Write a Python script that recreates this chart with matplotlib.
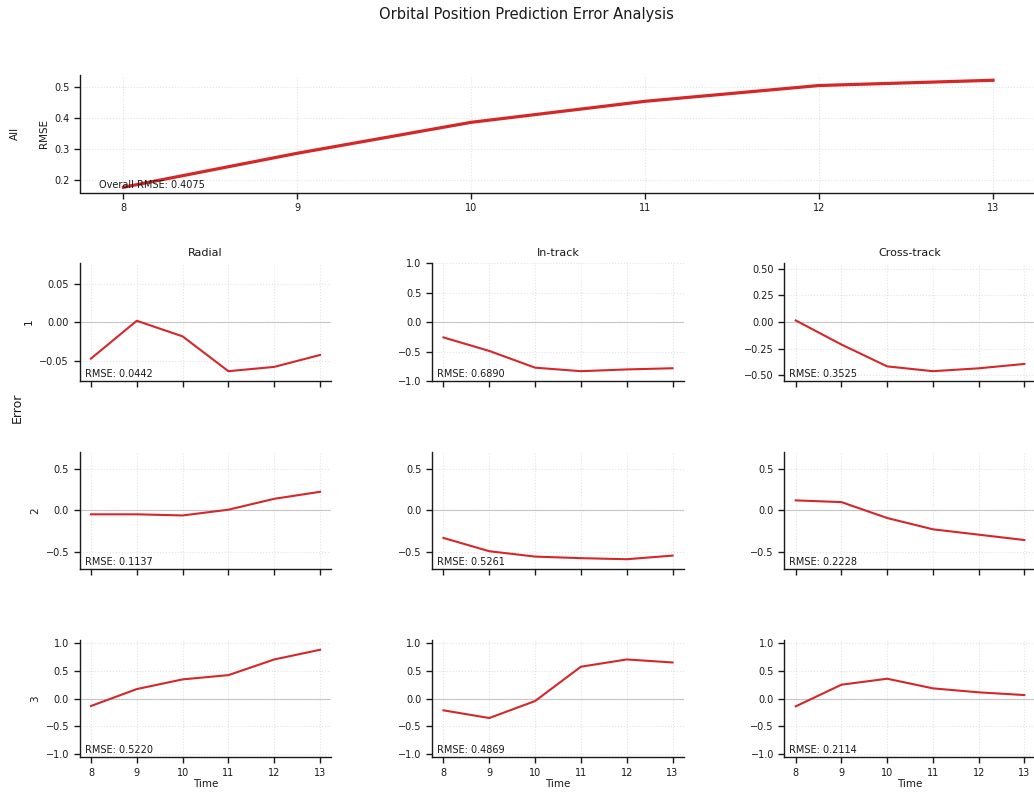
import numpy as np
import matplotlib
matplotlib.use("Agg")
import matplotlib.pyplot as plt
from matplotlib.ticker import MaxNLocator

# Time steps
times = [8, 9, 10, 11, 12, 13]

# Overall RMSE over time
overall_rmse = [0.177, 0.287, 0.387, 0.455, 0.506, 0.523]
overall_label = "Overall RMSE: 0.4075"

components = ["Radial", "In-track", "Cross-track"]
rows = ["1", "2", "3"]

# Errors per row (object) and component
radial_1 = [-0.0474, 0.0018, -0.0185, -0.0638, -0.0582, -0.0427]
intrack_1 = [-0.26, -0.49, -0.775, -0.835, -0.805, -0.785]
cross_1 = [0.016, -0.21, -0.415, -0.46, -0.433, -0.392]

radial_2 = [-0.048, -0.048, -0.062, 0.008, 0.14, 0.225]
intrack_2 = [-0.335, -0.496, -0.561, -0.58, -0.593, -0.549]
cross_2 = [0.121, 0.10, -0.093, -0.23, -0.295, -0.36]

radial_3 = [-0.133, 0.173, 0.348, 0.425, 0.708, 0.883]
intrack_3 = [-0.211, -0.35, -0.043, 0.577, 0.708, 0.654]
cross_3 = [-0.139, 0.252, 0.36, 0.186, 0.114, 0.065]

errors = [
    [radial_1, intrack_1, cross_1],
    [radial_2, intrack_2, cross_2],
    [radial_3, intrack_3, cross_3],
]
rmse_labels = [
    ["RMSE: 0.0442", "RMSE: 0.6890", "RMSE: 0.3525"],
    ["RMSE: 0.1137", "RMSE: 0.5261", "RMSE: 0.2228"],
    ["RMSE: 0.5220", "RMSE: 0.4869", "RMSE: 0.2114"],
]

RED = "#d62728"
TXT = "#1a1a1a"

plt.rcParams["font.family"] = ["DejaVu Sans"]
plt.rcParams["text.color"] = TXT
plt.rcParams["axes.labelcolor"] = TXT
plt.rcParams["xtick.color"] = TXT
plt.rcParams["ytick.color"] = TXT
plt.rcParams["axes.unicode_minus"] = True

W, H = 1034, 795
fig = plt.figure(figsize=(W / 100, H / 100), dpi=100)


def px_axes(x0, y0, x1, y1):
    # pixel box (top-left origin) -> figure axes
    return fig.add_axes([x0 / W, 1 - y1 / H, (x1 - x0) / W, (y1 - y0) / H])


def style(ax):
    for s in ["top", "right"]:
        ax.spines[s].set_visible(False)
    for s in ["left", "bottom"]:
        ax.spines[s].set_linewidth(1.0)
        ax.spines[s].set_color(TXT)
    ax.tick_params(labelsize=7, length=4, width=1, direction="out")
    ax.grid(True, linestyle=":", color="#d0d0d0", linewidth=0.8, alpha=0.6)
    ax.set_axisbelow(True)
    ax.set_xlim(7.75, 13.25)
    ax.set_xticks(times)
    ax.yaxis.set_major_locator(MaxNLocator(nbins=5, steps=[1, 2, 2.5, 5, 10]))


# Top overall RMSE panel
ax_top = px_axes(80, 75, 1036.5, 192.5)
style(ax_top)
ax_top.plot(times, overall_rmse, color=RED, linewidth=2.3)
ax_top.set_ylim(0.16, 0.54)
ax_top.set_ylabel("RMSE", fontsize=7.5)
ax_top.text(0.02, 0.02, overall_label, transform=ax_top.transAxes, fontsize=7, va="bottom")

col_x = [(79.5, 331.5), (432, 684), (784.3, 1035.8)]
row_y = [(263.3, 381), (451.7, 569), (640, 757.3)]

for r in range(3):
    row_max = max(np.max(np.abs(e)) for e in errors[r])
    for c in range(3):
        ax = px_axes(col_x[c][0], row_y[r][0], col_x[c][1], row_y[r][1])
        style(ax)
        vals = errors[r][c]
        ax.axhline(0, color="#999999", linewidth=0.8, alpha=0.5)
        ax.plot(times, vals, color=RED, linewidth=1.5)
        # first row scales each panel on its own, lower rows share the row limit
        lim = 1.2 * (np.max(np.abs(vals)) if r == 0 else row_max)
        ax.set_ylim(-lim, lim)
        ax.text(0.02, 0.02, rmse_labels[r][c], transform=ax.transAxes, fontsize=7, va="bottom")
        if r == 0:
            ax.set_title(components[c], fontsize=8, pad=5)
        if c == 0:
            ax.set_ylabel(rows[r], fontsize=7.5)
        if r < 2:
            ax.set_xticklabels([])
        else:
            ax.set_xlabel("Time", fontsize=7.5, labelpad=1)

fig.text(15 / W, 1 - 133 / H, "All", rotation=90, fontsize=7.5, ha="center", va="center")
fig.text(17 / W, 1 - 408 / H, "Error", rotation=90, fontsize=9, ha="center", va="center")
fig.suptitle("Orbital Position Prediction Error Analysis", fontsize=10.5, x=526 / W, y=1 - 7 / H, va="top")

fig.savefig("out.png", dpi=100)
